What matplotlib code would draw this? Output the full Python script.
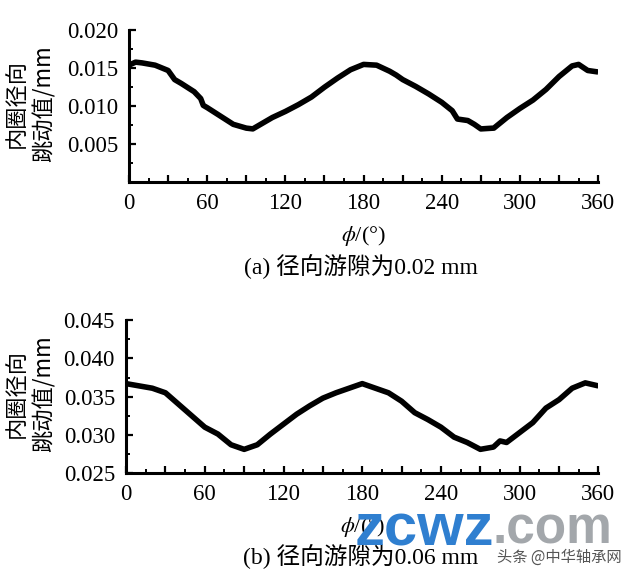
import matplotlib
matplotlib.use("Agg")
import matplotlib.pyplot as plt
from matplotlib.ticker import MultipleLocator, FuncFormatter

plt.rcParams['mathtext.fontset'] = 'stix'

# (a) radial clearance 0.02 mm
phi_a = [0, 5, 10, 20, 30, 35, 40, 50, 55, 57, 60, 70, 80, 90, 95, 100, 110, 120,
         130, 140, 150, 160, 170, 180, 190, 200, 205, 210, 220, 230, 240, 248,
         252, 260, 265, 270, 280, 290, 300, 310, 320, 330, 340, 345, 352, 360]
runout_a = [0.0154, 0.0158, 0.0157, 0.0154, 0.0147, 0.0135, 0.0130, 0.0119,
            0.0110, 0.0101, 0.0098, 0.0087, 0.0076, 0.0071, 0.0070, 0.0075,
            0.0085, 0.0093, 0.0102, 0.0112, 0.0125, 0.0137, 0.0148, 0.0155,
            0.0154, 0.0146, 0.0141, 0.0135, 0.0126, 0.0116, 0.0105, 0.0094,
            0.0083, 0.0081, 0.0076, 0.0070, 0.0071, 0.0085, 0.0097, 0.0108,
            0.0122, 0.0139, 0.0153, 0.0155, 0.0147, 0.0145]

# (b) radial clearance 0.06 mm
phi_b = [0, 10, 20, 30, 40, 50, 60, 70, 80, 90, 100, 110, 120, 130, 140, 150,
         160, 165, 170, 180, 190, 200, 210, 220, 230, 240, 250, 260, 270, 280,
         285, 290, 300, 310, 320, 330, 340, 350, 360]
runout_b = [0.0367, 0.0364, 0.0361, 0.0355, 0.0340, 0.0325, 0.0310, 0.0301,
            0.0287, 0.0281, 0.0287, 0.0301, 0.0314, 0.0327, 0.0338, 0.0348,
            0.0355, 0.0358, 0.0361, 0.0367, 0.0361, 0.0355, 0.0344, 0.0329,
            0.0320, 0.0310, 0.0297, 0.0290, 0.0281, 0.0284, 0.0292, 0.0290,
            0.0303, 0.0316, 0.0335, 0.0346, 0.0361, 0.0368, 0.0364]

SERIF = ['Liberation Serif', 'Noto Sans CJK SC']
CJK = ['Noto Sans CJK SC', 'DejaVu Sans']
H = 579.0


def style_axis(ax, ylim, ystep):
    ax.set_xlim(0, 360)
    ax.set_ylim(*ylim)
    for side in ['top', 'right']:
        ax.spines[side].set_visible(False)
    for side in ['left', 'bottom']:
        ax.spines[side].set_linewidth(2.2)
    ax.xaxis.set_major_locator(MultipleLocator(30))
    ax.xaxis.set_minor_locator(MultipleLocator(15))
    ax.xaxis.set_major_formatter(FuncFormatter(lambda v, p: f'{v:.0f}' if v % 60 == 0 else ''))
    ax.yaxis.set_major_locator(MultipleLocator(ystep))
    ax.yaxis.set_minor_locator(MultipleLocator(ystep / 2))
    ax.yaxis.set_major_formatter(FuncFormatter(lambda v, p: f'{v:.3f}'))
    ax.tick_params(which='major', direction='in', length=5, width=1.6, pad=8)
    ax.tick_params(which='minor', direction='in', length=3, width=1.4)
    for lab in ax.get_xticklabels() + ax.get_yticklabels():
        lab.set_fontfamily(SERIF)
        lab.set_fontsize(16.5)
    ax.set_xlabel(r'$\phi$/(°)', fontfamily=SERIF, fontsize=16, labelpad=7)


fig = plt.figure(figsize=(6.4, 5.79), dpi=100)
ax1 = fig.add_axes([0.2016, 0.6857, 0.733, 0.262])
ax2 = fig.add_axes([0.197, 0.183, 0.738, 0.264])

ax1.plot(phi_a, runout_a, color='black', linewidth=4, solid_capstyle='butt')
style_axis(ax1, (0, 0.020), 0.005)
ax1.set_yticks([0.005, 0.010, 0.015, 0.020])
for lab in ax1.get_yticklabels():
    lab.set_fontfamily(SERIF)
    lab.set_fontsize(16.5)

ax2.plot(phi_b, runout_b, color='black', linewidth=4, solid_capstyle='butt')
style_axis(ax2, (0.025, 0.045), 0.005)

# y labels (two rotated lines)
for yc in [104, 394]:
    fig.text(16 / 640, 1 - yc / H, '内圈径向', fontfamily=CJK, fontsize=16,
             rotation=90, ha='center', va='center')
    fig.text(44 / 640, 1 - yc / H, '跳动值/mm', fontfamily=CJK, fontsize=16,
             rotation=90, ha='center', va='center')

fig.text(361 / 640, 1 - 267 / H, '(a) 径向游隙为0.02 mm', fontfamily=SERIF, fontsize=17,
         ha='center', va='center')
fig.text(361 / 640, 1 - 557 / H, '(b) 径向游隙为0.06 mm', fontfamily=SERIF, fontsize=17,
         ha='center', va='center')

# watermark
fig.text(355 / 640, 1 - 530 / H, 'zcwz', fontfamily='Liberation Sans', fontsize=43,
         fontweight='bold', color='#2f7fd0', ha='left', va='center')
fig.text(612 / 640, 1 - 530 / H, '.com', fontfamily='Liberation Sans', fontsize=37,
         fontweight='bold', color='#a3a7ab', ha='right', va='center')
fig.text(559 / 640, 1 - 557 / H, '头条 @中华轴承网', fontfamily=CJK, fontsize=11,
         color='#555555', ha='center', va='center')

fig.savefig('out.png', dpi=100)
